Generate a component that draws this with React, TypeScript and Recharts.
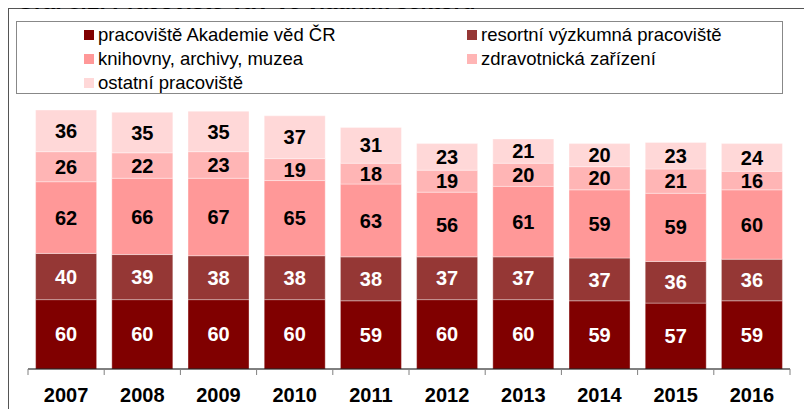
import React from "react"
import { BarChart, Bar, XAxis, YAxis, LabelList } from "recharts"

const years = ["2007", "2008", "2009", "2010", "2011", "2012", "2013", "2014", "2015", "2016"]
const akademie = [60, 60, 60, 60, 59, 60, 60, 59, 57, 59]
const resortni = [40, 39, 38, 38, 38, 37, 37, 37, 36, 36]
const knihovny = [62, 66, 67, 65, 63, 56, 61, 59, 59, 60]
const zdravotnicka = [26, 22, 23, 19, 18, 19, 20, 20, 21, 16]
const ostatni = [36, 35, 35, 37, 31, 23, 21, 20, 23, 24]

const seriesNames = [
  "pracoviště Akademie věd ČR",
  "resortní výzkumná pracoviště",
  "knihovny, archivy, muzea",
  "zdravotnická zařízení",
  "ostatní pracoviště",
]
const seriesKeys = ["akademie", "resortni", "knihovny", "zdravotnicka", "ostatni"]
const seriesColors = ["#800000", "#953735", "#ff9898", "#ffb5b5", "#ffd8d8"]
const labelColors = ["#ffffff", "#ffffff", "#000000", "#000000", "#000000"]

const data = years.map((year, i) => ({
  year,
  akademie: akademie[i],
  resortni: resortni[i],
  knihovny: knihovny[i],
  zdravotnicka: zdravotnicka[i],
  ostatni: ostatni[i],
}))

const FONT = '"Liberation Sans", Arial, sans-serif'

// legend item slots (column, row) – two columns like the original
const legendSlots = [
  { left: 76, top: 15 },
  { left: 459, top: 15 },
  { left: 76, top: 39 },
  { left: 459, top: 39 },
  { left: 76, top: 63 },
]

// eslint-disable-next-line @typescript-eslint/no-explicit-any
function YearTick(props: any) {
  const { x, y, payload, index, visibleTicksCount } = props
  const half = payload?.offset || 38.1
  const last = index === (visibleTicksCount ?? years.length) - 1
  return (
    <g>
      <line x1={x - half} x2={x - half} y1={y} y2={y + 6} stroke="#808080" />
      {last && <line x1={x + half} x2={x + half} y1={y} y2={y + 6} stroke="#808080" />}
      <text
        x={x}
        y={y + 33}
        textAnchor="middle"
        fontSize={20}
        fontWeight="bold"
        fontFamily={FONT}
        fill="#000"
      >
        {payload.value}
      </text>
    </g>
  )
}

export default function App() {
  return (
    <div
      style={{
        position: "relative",
        width: 804,
        height: 409,
        marginBottom: -8,
        fontFamily: FONT,
      }}
    >
      <div
        style={{
          position: "absolute",
          inset: 0,
          borderLeft: "1px solid #555",
          borderTop: "1px solid #555",
          background: "#fff",
        }}
      />
      {/* title sits mostly above the page edge, like the cropped original */}
      <div
        style={{
          position: "absolute",
          left: 9,
          top: -17,
          fontSize: 22,
          lineHeight: "22px",
          fontWeight: "bold",
          whiteSpace: "nowrap",
          color: "#000",
          zIndex: 2,
        }}
      >
        Graf 8.1: Pracoviště VaV ve vládním sektoru
      </div>
      <div style={{ position: "absolute", left: 0, top: 0 }}>
        <BarChart
          width={804}
          height={409}
          data={data}
          margin={{ top: 72, right: 22, bottom: 8, left: 20 }}
          barCategoryGap="10%"
        >
          <XAxis
            dataKey="year"
            height={40}
            tickLine={false}
            tickSize={0}
            tickMargin={0}
            axisLine={{ stroke: "#000" }}
            tick={<YearTick />}
            interval={0}
          />
          <YAxis hide domain={[0, 250]} />
          {seriesKeys.map((key, i) => (
            <Bar
              key={key}
              dataKey={key}
              name={seriesNames[i]}
              stackId="a"
              fill={seriesColors[i]}
              stroke="#ffffff"
              strokeOpacity={0.35}
              strokeWidth={1}
              isAnimationActive={false}
            >
              <LabelList
                dataKey={key}
                position="center"
                fill={labelColors[i]}
                fontSize={20}
                fontWeight="bold"
                fontFamily={FONT}
              />
            </Bar>
          ))}
        </BarChart>
      </div>
      <div
        style={{
          position: "absolute",
          left: 8,
          top: 13,
          width: 767,
          height: 73,
          boxSizing: "border-box",
          border: "1px solid #888",
          background: "#fff",
        }}
      />
      {seriesNames.map((name, i) => (
        <div
          key={name}
          style={{
            position: "absolute",
            left: legendSlots[i].left,
            top: legendSlots[i].top,
            height: 24,
            display: "flex",
            alignItems: "center",
            fontSize: 18.5,
            whiteSpace: "nowrap",
            color: "#000",
          }}
        >
          <span
            style={{
              display: "inline-block",
              width: 10,
              height: 10,
              background: seriesColors[i],
              marginRight: 4,
            }}
          />
          {name}
        </div>
      ))}
    </div>
  )
}
